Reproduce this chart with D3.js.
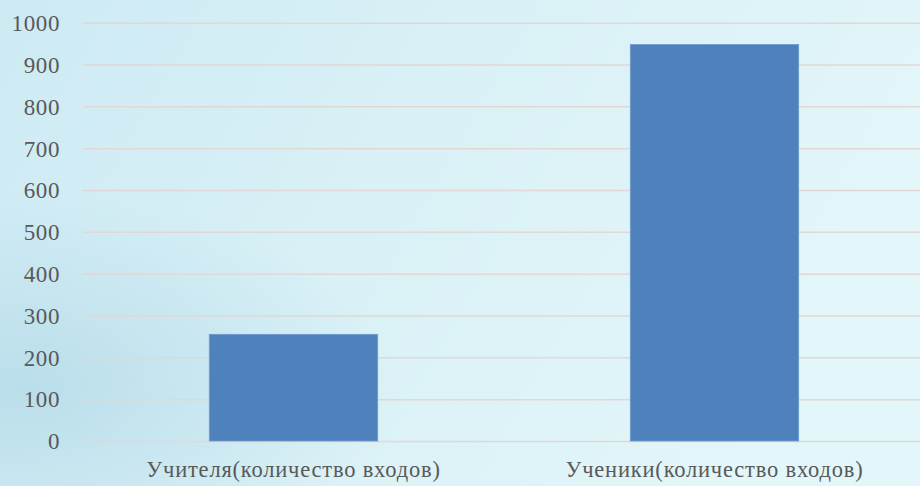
<!DOCTYPE html>
<html>
<head>
<meta charset="utf-8">
<script src="https://cdn.jsdelivr.net/npm/d3@7"></script>
<style>
  html, body { margin: 0; padding: 0; }
  body { width: 920px; height: 486px; overflow: hidden; }
  #chart svg { display: block; }
</style>
</head>
<body>
<div id="chart"></div>
<script>
const categories = ['Учителя(количество входов)', 'Ученики(количество входов)'];
const values = [255, 948];
const yTicks = [0, 100, 200, 300, 400, 500, 600, 700, 800, 900, 1000];

const W = 920, H = 486, M = { t: 22.7, r: -5, b: 45, l: 83 };
const FONT = "'Liberation Serif', 'Times New Roman', serif";
const svg = d3.select('#chart').append('svg').attr('width', W).attr('height', H);

// background wash
const defs = svg.append('defs');
const lg = defs.append('linearGradient').attr('id', 'bg').attr('x1', 0).attr('y1', 0).attr('x2', 1).attr('y2', 0.3);
lg.append('stop').attr('offset', '0%').attr('stop-color', '#cdeaf3');
lg.append('stop').attr('offset', '45%').attr('stop-color', '#d8f0f6');
lg.append('stop').attr('offset', '100%').attr('stop-color', '#e3f6f9');
const rg = defs.append('radialGradient').attr('id', 'shade').attr('cx', 0.03).attr('cy', 0.8).attr('r', 0.4);
rg.append('stop').attr('offset', '0%').attr('stop-color', '#a9d4e4').attr('stop-opacity', 0.6);
rg.append('stop').attr('offset', '100%').attr('stop-color', '#a9d4e4').attr('stop-opacity', 0);
svg.append('rect').attr('width', W).attr('height', H).attr('fill', 'url(#bg)');
svg.append('rect').attr('width', W).attr('height', H).attr('fill', 'url(#shade)');

const x = d3.scaleBand().domain(categories).range([M.l, W - M.r]).paddingInner(0.6).paddingOuter(0.3);
const y = d3.scaleLinear().domain([0, 1000]).range([H - M.b, M.t]);

// gridlines
svg.append('g')
  .attr('transform', `translate(${M.l},0)`)
  .call(d3.axisLeft(y).tickValues(yTicks).tickSize(-(W - M.l)).tickFormat(''))
  .call(g => g.select('.domain').remove())
  .call(g => g.selectAll('line').attr('stroke', '#e2d7d3').attr('stroke-width', 1.5));

// y tick labels
svg.append('g')
  .attr('transform', `translate(60,0)`)
  .call(d3.axisLeft(y).tickValues(yTicks).tickSize(0).tickPadding(0).tickFormat(d3.format('d')))
  .attr('font-family', FONT)
  .call(g => g.select('.domain').remove())
  .call(g => g.selectAll('text')
    .attr('fill', '#595959')
    .style('font-family', FONT)
    .style('font-size', '23px')
    .style('letter-spacing', '0.6px')
    .attr('dy', '0.34em'));

// bars
svg.selectAll('rect.bar').data(categories).enter().append('rect')
  .attr('class', 'bar')
  .attr('x', d => x(d)).attr('width', x.bandwidth())
  .attr('y', (d, i) => y(values[i]))
  .attr('height', (d, i) => y(0) - y(values[i]))
  .attr('fill', '#4f81bd')
  .attr('stroke', '#6f9bd0').attr('stroke-width', 0.8);

// category labels
svg.append('g')
  .attr('transform', `translate(0,${y(0)})`)
  .call(d3.axisBottom(x).tickSize(0).tickPadding(0))
  .attr('font-family', FONT)
  .call(g => g.select('.domain').remove())
  .call(g => g.selectAll('text')
    .attr('fill', '#595959')
    .attr('y', 36).attr('dy', 0)
    .style('font-family', FONT)
    .style('font-size', '22.5px')
    .style('letter-spacing', '0.8px'));
</script>
</body>
</html>
